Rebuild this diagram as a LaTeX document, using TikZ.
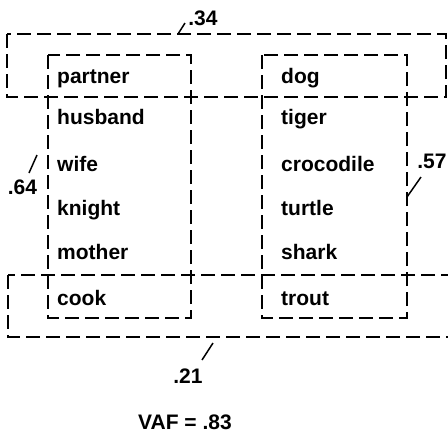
\documentclass[tikz,border=0pt]{standalone}
\usepackage{fontspec}
\setmainfont{Liberation Sans}
\usetikzlibrary{positioning}

\begin{document}
\begin{tikzpicture}[
      x=1pt, y=-1pt,
      every node/.style={inner sep=0pt, font=\bfseries\fontsize{21}{24}\selectfont},
      word/.style={anchor=base west},
      clus/.style={draw, line width=1.7pt, dash pattern=on 14pt off 6pt},
      tick/.style={line width=1.5pt}
    ]
      \useasboundingbox (0,0) rectangle (448,445);
      % clusters
      \draw[clus] (7,34) rectangle (446,97);
      \draw[clus] (48,55) rectangle (191,318);
      \draw[clus] (262,55) rectangle (407,318);
      \draw[clus] (8,275) rectangle (449.5,337);
      % left column
      \node[word] (partner) at (57,83) {partner};
      \node[word] (husband) at (57,124) {husband};
      \node[word] (wife) at (57,171) {wife};
      \node[word] (knight) at (57,215) {knight};
      \node[word] (mother) at (57,259) {mother};
      \node[word] (cook) at (57,305) {cook};
      % right column
      \node[word] (dog) at (281,83) {dog};
      \node[word] (tiger) at (281,124) {tiger};
      \node[word] (crocodile) at (281,171) {crocodile};
      \node[word] (turtle) at (281,215) {turtle};
      \node[word] (shark) at (281,259) {shark};
      \node[word] (trout) at (281,305) {trout};
      % weights
      \node (w34) at (203,18.5) {.34};
      \node (w64) at (22.5,187.5) {.64};
      \node (w57) at (432,161.5) {.57};
      \node (w21) at (188,376) {.21};
      \node (vaf) at (185,422.5) {VAF = .83};
      \coordinate (p34) at (178,34);
      \coordinate (q34) at (185,23);
      \coordinate (p64) at (29,173);
      \coordinate (q64) at (37,155);
      \coordinate (p57) at (421,177);
      \coordinate (q57) at (407,197);
      \coordinate (p21) at (213,343);
      \coordinate (q21) at (202,360);
      \draw[tick] (p34) -- (q34);
      \draw[tick] (p64) -- (q64);
      \draw[tick] (p57) -- (q57);
      \draw[tick] (p21) -- (q21);
    \end{tikzpicture}
\end{document}
